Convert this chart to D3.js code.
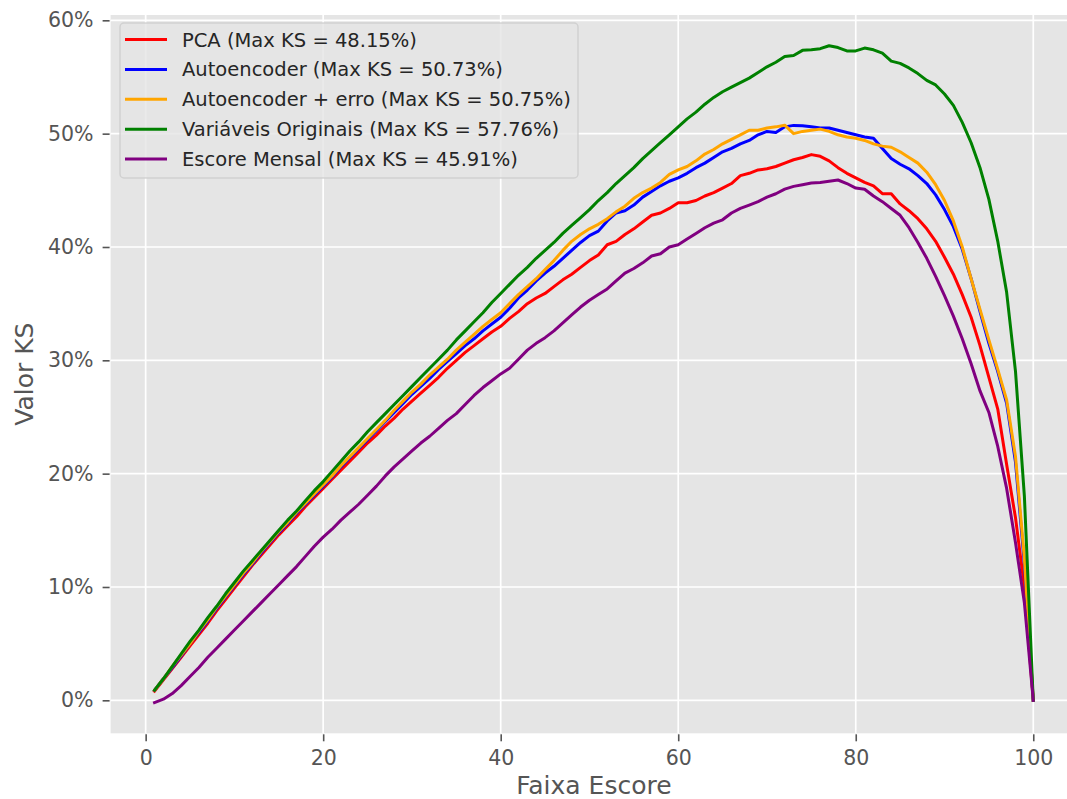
<!DOCTYPE html>
<html>
<head>
<meta charset="utf-8">
<script src="https://cdn.jsdelivr.net/npm/d3@7"></script>
<style>
  html, body { margin: 0; padding: 0; background: #ffffff; }
  svg { display: block; }
  text { font-family: "DejaVu Sans", sans-serif; }
</style>
</head>
<body>
<svg id="chart" width="1067" height="799"></svg>
<script>
// Score band (1..100)
const faixas = d3.range(1, 101);

// KS curves by score band
const ksPCA = [
  0.008, 0.018, 0.028, 0.038, 0.048, 0.058, 0.068, 0.079, 0.089, 0.099,
  0.109, 0.119, 0.128, 0.137, 0.146, 0.154, 0.162, 0.171, 0.179, 0.187,
  0.195, 0.203, 0.211, 0.219, 0.227, 0.234, 0.242, 0.249, 0.257, 0.264,
  0.271, 0.278, 0.285, 0.293, 0.300, 0.307, 0.313, 0.319, 0.325, 0.330,
  0.337, 0.343, 0.350, 0.355, 0.359, 0.365, 0.371, 0.376, 0.382, 0.388,
  0.393, 0.402, 0.405, 0.411, 0.416, 0.422, 0.428, 0.430, 0.434, 0.439,
  0.439, 0.441, 0.445, 0.448, 0.452, 0.456, 0.463, 0.465, 0.468, 0.469,
  0.471, 0.474, 0.477, 0.479, 0.4815, 0.480, 0.476, 0.470, 0.465, 0.461,
  0.457, 0.454, 0.447, 0.447, 0.438, 0.432, 0.425, 0.416, 0.405, 0.391,
  0.376, 0.358, 0.338, 0.313, 0.285, 0.257, 0.208, 0.161, 0.100, 0.0
];
const ksAutoencoder = [
  0.009, 0.019, 0.029, 0.039, 0.050, 0.060, 0.070, 0.081, 0.091, 0.101,
  0.111, 0.120, 0.130, 0.139, 0.148, 0.156, 0.165, 0.173, 0.181, 0.189,
  0.197, 0.206, 0.214, 0.222, 0.230, 0.238, 0.246, 0.254, 0.262, 0.270,
  0.277, 0.284, 0.292, 0.299, 0.306, 0.313, 0.319, 0.326, 0.332, 0.338,
  0.346, 0.355, 0.362, 0.370, 0.377, 0.383, 0.390, 0.397, 0.404, 0.410,
  0.414, 0.423, 0.430, 0.432, 0.437, 0.444, 0.449, 0.454, 0.458, 0.461,
  0.465, 0.470, 0.474, 0.479, 0.484, 0.487, 0.491, 0.494, 0.499, 0.502,
  0.501, 0.506, 0.5073, 0.507, 0.506, 0.505, 0.505, 0.503, 0.501, 0.499,
  0.497, 0.496, 0.487, 0.478, 0.473, 0.469, 0.463, 0.456, 0.446, 0.433,
  0.418, 0.398, 0.372, 0.343, 0.315, 0.290, 0.262, 0.210, 0.120, 0.0
];
const ksAutoencoderErro = [
  0.009, 0.019, 0.030, 0.040, 0.050, 0.061, 0.071, 0.082, 0.092, 0.102,
  0.112, 0.121, 0.131, 0.140, 0.149, 0.157, 0.166, 0.174, 0.182, 0.190,
  0.198, 0.207, 0.215, 0.223, 0.231, 0.239, 0.247, 0.256, 0.264, 0.272,
  0.279, 0.287, 0.294, 0.301, 0.309, 0.316, 0.323, 0.330, 0.336, 0.342,
  0.350, 0.358, 0.365, 0.372, 0.380, 0.388, 0.397, 0.405, 0.411, 0.416,
  0.420, 0.425, 0.431, 0.436, 0.443, 0.448, 0.452, 0.457, 0.464, 0.468,
  0.471, 0.476, 0.482, 0.486, 0.491, 0.495, 0.499, 0.503, 0.503, 0.505,
  0.506, 0.5075, 0.500, 0.502, 0.503, 0.504, 0.502, 0.499, 0.497, 0.496,
  0.494, 0.491, 0.489, 0.488, 0.484, 0.479, 0.474, 0.466, 0.455, 0.441,
  0.423, 0.400, 0.372, 0.345, 0.318, 0.292, 0.265, 0.215, 0.125, 0.0
];
const ksOriginais = [
  0.009, 0.019, 0.030, 0.041, 0.052, 0.062, 0.073, 0.083, 0.094, 0.104,
  0.114, 0.123, 0.132, 0.141, 0.150, 0.159, 0.167, 0.176, 0.185, 0.193,
  0.202, 0.211, 0.220, 0.228, 0.237, 0.245, 0.253, 0.261, 0.269, 0.277,
  0.285, 0.293, 0.301, 0.309, 0.318, 0.326, 0.334, 0.342, 0.351, 0.359,
  0.367, 0.375, 0.382, 0.390, 0.397, 0.404, 0.412, 0.419, 0.426, 0.433,
  0.441, 0.448, 0.456, 0.463, 0.470, 0.478, 0.485, 0.492, 0.499, 0.506,
  0.513, 0.519, 0.526, 0.532, 0.537, 0.541, 0.545, 0.549, 0.554, 0.559,
  0.563, 0.568, 0.569, 0.5735, 0.574, 0.575, 0.5776, 0.576, 0.573, 0.573,
  0.5755, 0.574, 0.571, 0.564, 0.562, 0.558, 0.553, 0.547, 0.543, 0.535,
  0.525, 0.510, 0.492, 0.470, 0.442, 0.405, 0.360, 0.290, 0.180, 0.0
];
const ksEscoreMensal = [
  -0.002, 0.001, 0.006, 0.013, 0.021, 0.029, 0.038, 0.046, 0.054, 0.062,
  0.070, 0.078, 0.086, 0.094, 0.102, 0.110, 0.118, 0.127, 0.136, 0.144,
  0.151, 0.159, 0.166, 0.173, 0.181, 0.189, 0.198, 0.206, 0.213, 0.220,
  0.227, 0.233, 0.240, 0.247, 0.253, 0.261, 0.269, 0.276, 0.282, 0.288,
  0.293, 0.301, 0.309, 0.315, 0.320, 0.326, 0.333, 0.340, 0.347, 0.353,
  0.358, 0.363, 0.370, 0.377, 0.381, 0.386, 0.392, 0.394, 0.400, 0.402,
  0.407, 0.412, 0.417, 0.421, 0.424, 0.430, 0.434, 0.437, 0.440, 0.444,
  0.447, 0.451, 0.4535, 0.455, 0.4565, 0.457, 0.458, 0.4591, 0.456, 0.452,
  0.451, 0.445, 0.440, 0.434, 0.428, 0.417, 0.404, 0.390, 0.374, 0.357,
  0.339, 0.319, 0.297, 0.273, 0.254, 0.224, 0.187, 0.139, 0.086, 0.0
];

const seriesNames = [
  "PCA (Max KS = 48.15%)",
  "Autoencoder (Max KS = 50.73%)",
  "Autoencoder + erro (Max KS = 50.75%)",
  "Variáveis Originais (Max KS = 57.76%)",
  "Escore Mensal (Max KS = 45.91%)"
];
const seriesColors = ["red", "blue", "orange", "green", "purple"];
const seriesValues = [ksPCA, ksAutoencoder, ksAutoencoderErro, ksOriginais, ksEscoreMensal];

const xTicks = [0, 20, 40, 60, 80, 100];
const yTicks = [0, 0.1, 0.2, 0.3, 0.4, 0.5, 0.6];

// Axes geometry
const plot = { left: 110.6, right: 1077.2, top: 15, bottom: 733.3 };
const x = d3.scaleLinear().domain([-3.95, 104.95]).range([plot.left, plot.right]);
const y = d3.scaleLinear().domain([-0.0291, 0.6047]).range([plot.bottom, plot.top]);

const svg = d3.select("#chart");
const tickColor = "#555555";

svg.append("rect").attr("width", 1067).attr("height", 799).attr("fill", "#ffffff");

svg.append("defs").append("clipPath").attr("id", "plotclip")
  .append("rect")
  .attr("x", plot.left).attr("y", plot.top)
  .attr("width", plot.right - plot.left).attr("height", plot.bottom - plot.top);

// Panel background
svg.append("rect")
  .attr("x", plot.left).attr("y", plot.top)
  .attr("width", plot.right - plot.left).attr("height", plot.bottom - plot.top)
  .attr("fill", "#E5E5E5");

// Grid
const grid = svg.append("g").attr("clip-path", "url(#plotclip)");
grid.selectAll("line.gx").data(xTicks).join("line")
  .attr("x1", d => x(d)).attr("x2", d => x(d))
  .attr("y1", plot.top).attr("y2", plot.bottom)
  .attr("stroke", "#ffffff").attr("stroke-width", 1.7);
grid.selectAll("line.gy").data(yTicks).join("line")
  .attr("x1", plot.left).attr("x2", plot.right)
  .attr("y1", d => y(d)).attr("y2", d => y(d))
  .attr("stroke", "#ffffff").attr("stroke-width", 1.7);

// X axis
const xAxis = d3.axisBottom(x).tickValues(xTicks).tickSize(7).tickPadding(9).tickFormat(d3.format("d"));
const gx = svg.append("g").attr("transform", `translate(0,${plot.bottom + 1})`).call(xAxis);
gx.select(".domain").remove();
gx.selectAll(".tick line").attr("stroke", tickColor).attr("stroke-width", 1.6);
gx.selectAll(".tick text").attr("fill", tickColor).attr("font-size", "20.5px")
  .attr("font-family", "DejaVu Sans, sans-serif");

// Y axis
const yAxis = d3.axisLeft(y).tickValues(yTicks).tickSize(7).tickPadding(9).tickFormat(d3.format(".0%"));
const gy = svg.append("g").attr("transform", `translate(${plot.left - 1},0)`).call(yAxis);
gy.select(".domain").remove();
gy.selectAll(".tick line").attr("stroke", tickColor).attr("stroke-width", 1.6);
gy.selectAll(".tick text").attr("fill", tickColor).attr("font-size", "20.5px")
  .attr("font-family", "DejaVu Sans, sans-serif");

// Axis titles
svg.append("text")
  .attr("x", (plot.left + plot.right) / 2).attr("y", 794)
  .attr("text-anchor", "middle").attr("font-size", "25px").attr("fill", tickColor)
  .text("Faixa Escore");
svg.append("text")
  .attr("transform", `translate(33,${(plot.top + plot.bottom) / 2}) rotate(-90)`)
  .attr("text-anchor", "middle").attr("font-size", "25px").attr("fill", tickColor)
  .text("Valor KS");

// KS curves
const line = d3.line().x((d, i) => x(faixas[i])).y(d => y(d));
const curves = svg.append("g").attr("clip-path", "url(#plotclip)");
seriesValues.forEach((vals, k) => {
  curves.append("path")
    .datum(vals)
    .attr("d", line)
    .attr("fill", "none")
    .attr("stroke", seriesColors[k])
    .attr("stroke-width", 3)
    .attr("stroke-linejoin", "round")
    .attr("stroke-linecap", "square");
});

// Legend
const legend = svg.append("g");
legend.append("rect")
  .attr("x", 120).attr("y", 23).attr("width", 458).attr("height", 155)
  .attr("rx", 4).attr("ry", 4)
  .attr("fill", "#E5E5E5").attr("fill-opacity", 0.8)
  .attr("stroke", "#CCCCCC").attr("stroke-opacity", 0.8).attr("stroke-width", 1.5);
const rowY = d3.scaleLinear().domain([0, 4]).range([39.5, 159]);
seriesNames.forEach((name, k) => {
  legend.append("line")
    .attr("x1", 125).attr("x2", 167)
    .attr("y1", rowY(k)).attr("y2", rowY(k))
    .attr("stroke", seriesColors[k]).attr("stroke-width", 3);
  legend.append("text")
    .attr("x", 182).attr("y", rowY(k))
    .attr("dy", "0.36em")
    .attr("font-size", "19.5px").attr("fill", "#262626")
    .text(name);
});
</script>
</body>
</html>
